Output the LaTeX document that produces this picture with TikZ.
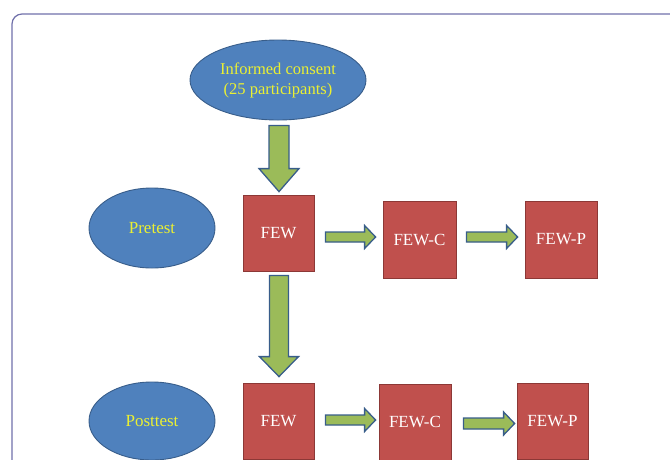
\documentclass[tikz,border=0pt]{standalone}
\usepackage{fontspec}
\setmainfont{Liberation Serif}
\usetikzlibrary{shapes.geometric,calc}
\definecolor{ellfill}{RGB}{79,129,189}
\definecolor{ellline}{RGB}{56,93,138}
\definecolor{boxfill}{RGB}{192,80,77}
\definecolor{boxline}{RGB}{140,56,54}
\definecolor{arrfill}{RGB}{155,187,89}
\definecolor{txtyellow}{RGB}{235,240,50}
\definecolor{framecol}{RGB}{112,112,170}
\tikzset{
  oval/.style={ellipse, draw=ellline, line width=0.9pt, fill=ellfill, text=txtyellow,
    inner sep=0pt, font=\fontsize{17}{20}\selectfont, align=center},
  redbox/.style={rectangle, draw=boxline, line width=0.8pt, fill=boxfill, text=white,
    inner sep=0pt, font=\fontsize{17}{20}\selectfont},
  blockarrow/.style={draw=ellline, line width=1.3pt, fill=arrfill, line join=miter},
  framebox/.style={draw=framecol, line width=1.2pt, rounded corners=10pt}
}
% horizontal block arrow: #1 start, #2 end, #3 shaft half, #4 head half, #5 head length
\newcommand\harrow[5]{%
  \draw[blockarrow] let \p1=(#1), \p2=(#2) in
    (\x1,\y1+#3) -- (\x2-#5,\y1+#3) -- (\x2-#5,\y1+#4) -- (\x2,\y1)
    -- (\x2-#5,\y1-#4) -- (\x2-#5,\y1-#3) -- (\x1,\y1-#3) -- cycle;}
% vertical (downward) block arrow
\newcommand\varrow[5]{%
  \draw[blockarrow] let \p1=(#1), \p2=(#2) in
    (\x1-#3,\y1) -- (\x1-#3,\y2+#5) -- (\x1-#4,\y2+#5) -- (\x1,\y2)
    -- (\x1+#4,\y2+#5) -- (\x1+#3,\y2+#5) -- (\x1+#3,\y1) -- cycle;}
\begin{document}
\begin{tikzpicture}[x=1pt,y=-1pt]
\useasboundingbox (0,0) rectangle (670,459);
\clip (0,0) rectangle (670,459);
\draw[framebox] (12,14) rectangle (720,520);

\node[oval, minimum width=176pt, minimum height=80pt, font=\fontsize{16.5}{20}\selectfont] (consent) at (278,80)
  {Informed consent\\(25 participants)};
\node[oval, minimum width=126pt, minimum height=80pt] (pre) at (152,228) {Pretest};
\node[oval, minimum width=126pt, minimum height=78pt] (post) at (152,421) {Posttest};

\node[redbox, minimum width=71pt, minimum height=76pt] (few1) at (278.5,233) {FEW};
\node[redbox, minimum width=73pt, minimum height=77pt] (fewc1) at (419.5,239.5) {FEW-C};
\node[redbox, minimum width=72pt, minimum height=77pt] (fewp1) at (561,239.5) {FEW-P};

\node[redbox, minimum width=71pt, minimum height=76pt] (few2) at (278.5,421) {FEW};
\node[redbox, minimum width=72pt, minimum height=76pt] (fewc2) at (415,422) {FEW-C};
\node[redbox, minimum width=71pt, minimum height=76pt] (fewp2) at (552.5,421) {FEW-P};

% arrow end points tied to nodes
\coordinate (a1s) at ($(consent.south)+(1,5)$);
\coordinate (a1e) at ($(few1.north)+(0,-3)$);
\coordinate (a2s) at ($(few1.south)+(0.5,4)$);
\coordinate (a2e) at ($(few2.north)+(0,-6)$);
\coordinate (a3s) at ($(few1.east)+(11,4)$);
\coordinate (a3e) at ($(fewc1.west)+(-7,0)$);
\coordinate (a4s) at ($(fewc1.east)+(10,-2.5)$);
\coordinate (a4e) at ($(fewp1.west)+(-7,0)$);
\coordinate (a5s) at ($(few2.east)+(11,-1)$);
\coordinate (a5e) at ($(fewc2.west)+(-3,0)$);
\coordinate (a6s) at ($(fewc2.east)+(12,1.5)$);
\coordinate (a6e) at ($(fewp2.west)+(-2,0)$);

\varrow{a1s}{a1e}{10pt}{20pt}{23pt}
\varrow{a2s}{a2e}{9.5pt}{19.5pt}{20pt}
\harrow{a3s}{a3e}{5pt}{11.5pt}{11pt}
\harrow{a4s}{a4e}{5pt}{11.5pt}{11pt}
\harrow{a5s}{a5e}{5pt}{11.5pt}{11pt}
\harrow{a6s}{a6e}{5.5pt}{11.5pt}{11pt}
\end{tikzpicture}
\end{document}
